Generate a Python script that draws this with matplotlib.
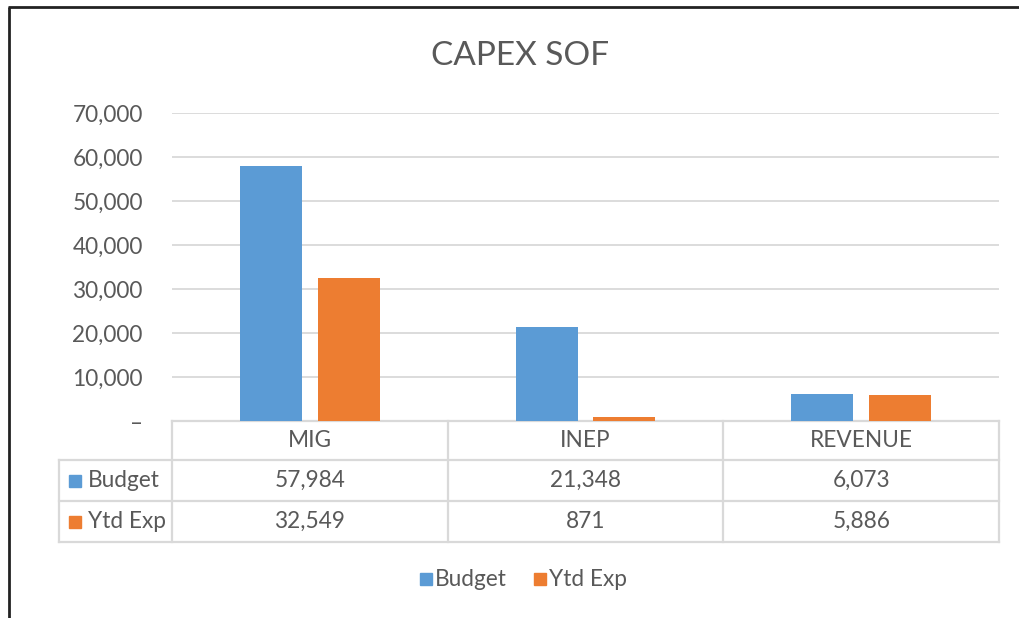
import matplotlib
matplotlib.use("Agg")
import matplotlib.pyplot as plt
import matplotlib.transforms as mtransforms
from matplotlib.ticker import FuncFormatter
from matplotlib.patches import Rectangle
import numpy as np

plt.rcParams['font.family'] = ['Lato', 'DejaVu Sans']

categories = ["MIG", "INEP", "REVENUE"]
series_names = ["Budget", "Ytd Exp"]
budget = [57984, 21348, 6073]
ytd_exp = [32549, 871, 5886]
yticks = [0, 10000, 20000, 30000, 40000, 50000, 60000, 70000]
title = "CAPEX SOF"

colors = ["#5B9BD5", "#ED7D31"]
text_color = "#595959"
grid_color = "#D9D9D9"

W, H = 1020, 618
fig = plt.figure(figsize=(W / 100, H / 100), dpi=100)
fig.patch.set_facecolor("white")

# overlay in pixel coordinates
ov = fig.add_axes([0, 0, 1, 1], zorder=0)
ov.set_xlim(0, W)
ov.set_ylim(H, 0)
ov.axis("off")

x0, x1, ytop, ybot = 172, 999, 113, 421
ax = fig.add_axes([x0 / W, 1 - ybot / H, (x1 - x0) / W, (ybot - ytop) / H], zorder=1)
ax.patch.set_alpha(0)

x = np.arange(len(categories))
bw = 0.225
off = 0.141
ax.bar(x - off, budget, width=bw, color=colors[0], zorder=3)
ax.bar(x + off, ytd_exp, width=bw, color=colors[1], zorder=3)
ax.set_xlim(-0.5, len(categories) - 0.5)
ax.set_ylim(0, 70000)
ax.set_yticks(yticks)
ax.yaxis.set_major_formatter(FuncFormatter(lambda v, p: "–" if v == 0 else f"{int(v):,}"))
fs = 16.3
ax.tick_params(axis="y", length=0, pad=21, labelsize=fs, labelcolor=text_color)
ax.tick_params(axis="x", length=0, labelbottom=False)
for s in ax.spines.values():
    s.set_visible(False)
for t in yticks[1:]:
    ax.axhline(t, color=grid_color, lw=1.3, zorder=1)

# data table
blend = mtransforms.blended_transform_factory(ax.transData, ov.transData)
row_edges = [421, 460, 501, 542]
label_left = 59
lc = dict(color=grid_color, lw=1.6, solid_capstyle="projecting")
ov.plot([x0, x1], [row_edges[0]] * 2, **lc)
for yy in row_edges[1:]:
    ov.plot([label_left, x1], [yy, yy], **lc)
for b in np.arange(len(categories) + 1) - 0.5:
    ax.plot([b, b], [row_edges[0], row_edges[-1]], transform=blend, clip_on=False, **lc)
ov.plot([label_left, label_left], [row_edges[1], row_edges[-1]], **lc)

for i, c in enumerate(categories):
    ax.text(i, (row_edges[0] + row_edges[1]) / 2, c, transform=blend, ha="center", va="center",
            fontsize=fs, color=text_color)
for r, (name, vals) in enumerate(zip(series_names, [budget, ytd_exp])):
    yc = (row_edges[r + 1] + row_edges[r + 2]) / 2
    for i, v in enumerate(vals):
        ax.text(i, yc, f"{v:,}", transform=blend, ha="center", va="center",
                fontsize=fs, color=text_color)
    ov.add_patch(Rectangle((69, yc - 6), 12, 12, color=colors[r]))
    ov.text(88, yc, name, ha="left", va="center", fontsize=fs, color=text_color)

# legend
leg_y = 579
ov.add_patch(Rectangle((420, leg_y - 6), 12, 12, color=colors[0]))
ov.text(435, leg_y, series_names[0], ha="left", va="center", fontsize=fs, color=text_color)
ov.add_patch(Rectangle((534, leg_y - 6), 12, 12, color=colors[1]))
ov.text(549, leg_y, series_names[1], ha="left", va="center", fontsize=fs, color=text_color)

# title
ov.text(520, 56, title, ha="center", va="center", fontsize=24, color=text_color)

# outer border (top and left)
ov.plot([8, W], [7, 7], color="#222222", lw=2, solid_capstyle="butt")
ov.plot([9, 9], [7, H], color="#222222", lw=2, solid_capstyle="butt")

fig.savefig("out.png", dpi=100)
